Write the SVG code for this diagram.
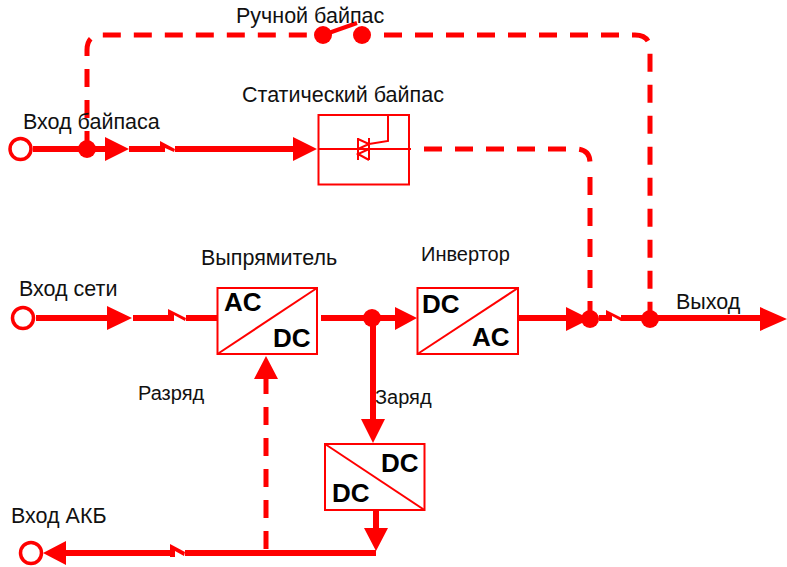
<svg xmlns="http://www.w3.org/2000/svg" width="787" height="567" viewBox="0 0 787 567">
<style>
text{font-family:"Liberation Sans",Arial,sans-serif;font-size:21.5px;fill:#111}
.s{font-size:20px}
.b{font-weight:bold;font-size:26px;fill:#000}
.box{fill:#fff;stroke:#f00;stroke-width:2}
.thin{fill:none;stroke:#f00;stroke-width:2}
.w{fill:none;stroke:#f00;stroke-width:6}
.d{fill:none;stroke:#f00;stroke-width:5;stroke-dasharray:18 13}
.a,.j{fill:#f00}
.o{fill:#fff;stroke:#f00;stroke-width:3.5}
</style>
<rect width="787" height="567" fill="#fff"/>
<g id="connectors">
<path class="d" d="M87 149V50Q87 35 102 35H307"/>
<path class="d" d="M384 35H635Q650 35 650 50V319"/>
<path class="d" d="M424 149H575Q590 149 590 163"/>
<path class="d" d="M590 177V319"/>
<path class="d" d="M266 549V376"/>
<path class="w" d="M33 149H110M129 149H161M175 149H296"/>
<path class="w" d="M36 318H110M133 318H168M186 318H221M321 318H398"/>
<path class="w" d="M519 318H570M599 318H607M621 318H765"/>
<path class="w" d="M373 318V422M376 510V530M376 553H185M170 553H62"/>
<path class="j" d="M160 141L175 149L174 152L165 148V152H160ZM168 309L186 318L185 321L174 315V321H168ZM606 310L622 318L621 321L612 316V321H606ZM170 544L185 552L184 556L175 551V557H170Z"/>
<path class="a" d="M105 137L129 149L105 161ZM293 137L317 149L293 161ZM107 306L132 318L107 330ZM395 307L417 318L395 330ZM566 307L590 319L566 331ZM760 307L787 319L760 331ZM361 419H385L373 443ZM364 528H388L376 551ZM254 379L266 356L278 379ZM66 541L43 553L66 565Z"/>
<circle class="j" cx="87" cy="149" r="9"/>
<circle class="j" cx="323" cy="35" r="9"/>
<circle class="j" cx="362" cy="35" r="9"/>
<path class="thin" d="M323 35L357 23" style="stroke-width:4"/>
<circle class="j" cx="372" cy="318" r="9"/>
<circle class="j" cx="590" cy="319" r="9"/>
<circle class="j" cx="650" cy="319" r="9"/>
</g>
<g id="bypass-input"><circle class="o" cx="20.500" cy="149" r="10.500"/><text x="23" y="129">Вход байпаса</text></g>
<g id="mains-input"><circle class="o" cx="23" cy="318" r="10.500"/><text x="19" y="296">Вход сети</text></g>
<g id="battery-input"><circle class="o" cx="31" cy="553" r="10.500"/><text x="11" y="523">Вход АКБ</text></g>
<g id="manual-bypass"><text x="236" y="23">Ручной байпас</text></g>
<g id="static-bypass">
<text x="242" y="102">Статический байпас</text>
<rect class="box" x="318.500" y="115" width="90.500" height="69.500"/>
<path class="thin" d="M318 149H411M358 138V160M369 138V160M358 139L369 144L358 149M369 149L358 154L369 160M369 144L388 141V115"/>
</g>
<g id="rectifier">
<text x="201" y="265">Выпрямитель</text>
<rect class="box" x="217.500" y="288" width="99.500" height="66"/>
<path class="thin" d="M217.500 354L317 288"/>
<text class="b" x="224" y="311">AC</text><text class="b" x="273" y="347">DC</text>
</g>
<g id="inverter">
<text class="s" x="421" y="261">Инвертор</text>
<rect class="box" x="417.500" y="288" width="100.500" height="66"/>
<path class="thin" d="M417.500 354L518 288"/>
<text class="b" x="422" y="313">DC</text><text class="b" x="472" y="346">AC</text>
</g>
<g id="dc-dc">
<rect class="box" x="325" y="444" width="99.500" height="66"/>
<path class="thin" d="M325 444L424.500 510"/>
<text class="b" x="381" y="472">DC</text><text class="b" x="332" y="502">DC</text>
</g>
<g id="labels">
<text x="676" y="309">Выход</text>
<text class="s" x="138" y="400">Разряд</text>
<text class="s" x="375" y="404">Заряд</text>
</g>
</svg>
